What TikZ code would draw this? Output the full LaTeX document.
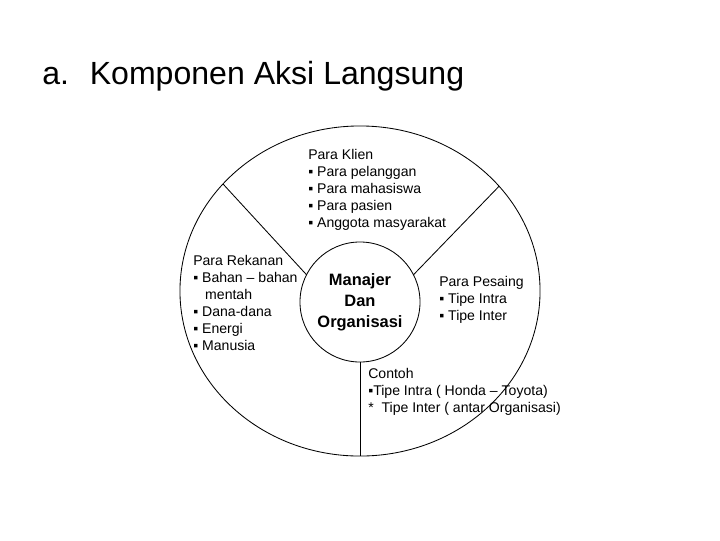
\documentclass[tikz,border=0pt]{standalone}
\usepackage{fontspec}
\setmainfont{Liberation Sans}
\usetikzlibrary{shapes.geometric,positioning}

\begin{document}
\begin{tikzpicture}[
x=0.025cm, y=-0.025cm,
outerring/.style={draw, ellipse, inner sep=0pt, outer sep=0pt, line width=0.6pt, minimum width=9cm, minimum height=8.25cm},
corering/.style={draw, circle, inner sep=0pt, outer sep=0pt, line width=0.6pt, minimum size=3cm, align=center, font=\fontsize{11.7}{14.9}\selectfont\bfseries},
part/.style={align=left, inner sep=0pt, anchor=base west, font=\fontsize{10}{11.95}\selectfont},
divider/.style={line width=0.6pt}
]
\fill[white] (0,0) rectangle (720,540);
\useasboundingbox (0,0) rectangle (720,540);
\node[inner sep=0pt, anchor=base west, font=\fontsize{22.8}{27}\selectfont] (title) at (42,84) {a.\hspace{0.65em}Komponen Aksi Langsung};
\node[outerring] (outer) at (360,291) {};
\node[corering] (core) at (360,302) {Manajer\\Dan\\Organisasi};
\node[part] (klien) at (308,227) {Para Klien\\▪ Para pelanggan\\▪ Para mahasiswa\\▪ Para pasien\\▪ Anggota masyarakat};
\node[part] (rekanan) at (193,350) {Para Rekanan\\▪ Bahan – bahan\\\hspace{0.85em}mentah\\▪ Dana-dana\\▪ Energi\\▪ Manusia};
\node[part] (pesaing) at (439,320) {Para Pesaing\\▪ Tipe Intra\\▪ Tipe Inter};
\node[part] (contoh) at (368,412) {Contoh\\▪Tipe Intra ( Honda – Toyota)\\*\ \ Tipe Inter ( antar Organisasi)};
\draw[divider] (core.153) -- (outer.142);
\draw[divider] (core.27) -- (outer.37);
\draw[divider] (core.south) -- (outer.south);
\end{tikzpicture}
\end{document}
